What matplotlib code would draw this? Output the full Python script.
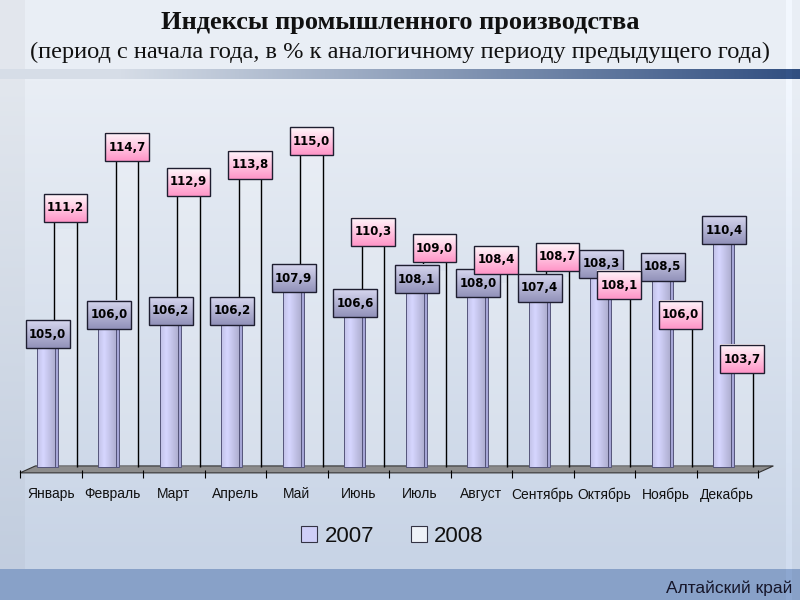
import numpy as np
import matplotlib
matplotlib.use("Agg")
import matplotlib.pyplot as plt
from matplotlib.patches import Rectangle, Polygon
from matplotlib.lines import Line2D

# ── Data ───────────────────────────────────────────────────────
months = ["Январь", "Февраль", "Март", "Апрель", "Май", "Июнь",
          "Июль", "Август", "Сентябрь", "Октябрь", "Ноябрь", "Декабрь"]
y2007 = [105.0, 106.0, 106.2, 106.2, 107.9, 106.6,
         108.1, 108.0, 107.4, 108.3, 108.5, 110.4]
y2008 = [111.2, 114.7, 112.9, 113.8, 115.0, 110.3,
         109.0, 108.4, 108.7, 108.1, 106.0, 103.7]
series_names = ["2007", "2008"]

TITLE = "Индексы промышленного производства"
SUBTITLE = "(период с начала года, в % к аналогичному периоду предыдущего года)"
FOOTER = "Алтайский край"

# label nudges (pixels, up is positive) as placed in the original slide
nudge07 = [0, 0, 0, 0, 0, 0, -5, -7, 0, 7, 0, 0]
nudge08 = [7, 0, 0, 0, 0, 0, 9, 9, 6, -11, 0, 0]

YMIN = 98.67
YMAX = YMIN + 20.25
BASE = 98.8
PX = 390 / (YMAX - YMIN)      # pixels per unit

fig = plt.figure(figsize=(8, 6), dpi=100)

# ── Background ─────────────────────────────────────────────────
H, W = 600, 800
yy = np.arange(H)[:, None]
xx = np.arange(W)[None, :]
top = np.array([233, 238, 245]) / 255
bot = np.array([200, 212, 230]) / 255
t = np.clip((yy - 80) / 480, 0, 1)[..., None]
bg = (1 - t) * top + t * bot
bg = np.broadcast_to(bg, (H, W, 3)).copy()
bg[:, :25] *= 0.97
band = (yy[:, 0] >= 69) & (yy[:, 0] <= 78)
s = np.clip((xx[0] - 120) / 680, 0, 1)[:, None]
c0 = np.array([214, 221, 231]) / 255
c1 = np.array([48, 78, 128]) / 255
bg[band] = (1 - s) * c0 + s * c1
bg[569:] = np.array([136, 161, 200]) / 255
bg[:, 786:792] = np.minimum(bg[:, 786:792] * 1.04, 1)

bgax = fig.add_axes([0, 0, 1, 1], zorder=-10)
bgax.imshow(bg, aspect="auto", interpolation="bilinear")
bgax.axis("off")

fig.text(0.5, 0.963, TITLE, ha="center", va="center", fontsize=19,
         fontweight="bold", family="Liberation Serif", color="#111111")
fig.text(0.5, 0.913, SUBTITLE, ha="center", va="center", fontsize=17.6,
         family="Liberation Serif", color="#111111")
fig.text(0.99, 0.02, FOOTER, ha="right", va="center", fontsize=12.5,
         family="Liberation Sans", color="#16162a")

# ── Chart ──────────────────────────────────────────────────────
ax = fig.add_axes([0.025, 0.2167, 0.9225, 0.65])
ax.patch.set_alpha(0)
for sp in ax.spines.values():
    sp.set_visible(False)

x = np.arange(len(months))
off07, off08 = -0.08, 0.24
w07, w08 = 0.29, 0.36

# 2008 bars (behind, transparent, only side walls drawn)
b08 = ax.bar(x + off08, np.array(y2008) - BASE, bottom=BASE, width=w08,
             facecolor=(1, 1, 1, 0.18), edgecolor="none", zorder=2)
for p, n in zip(b08, nudge08):
    top_v = p.get_y() + p.get_height() + max(n, 0) / PX
    ax.vlines([p.get_x(), p.get_x() + p.get_width()], p.get_y(), top_v,
              color="black", linewidth=1.0, zorder=2.1)

# 2007 bars (front, lavender cylinder)
b07 = ax.bar(x + off07, np.array(y2007) - BASE, bottom=BASE, width=w07,
             color="#c8c8f4", edgecolor="none", zorder=3)
prof = np.linspace(0, 1, 40)
shade = 1 - 0.18 * np.abs(prof - 0.35) / 0.65
lav = np.array([214, 214, 255]) / 255
grad = shade[None, :, None] * lav[None, None, :]
for p, n in zip(b07, nudge07):
    x0, y0, bw = p.get_x(), p.get_y(), p.get_width()
    bh = p.get_height() + max(n, 0) / PX
    ax.imshow(grad, extent=(x0, x0 + bw, y0, y0 + bh), aspect="auto",
              interpolation="bilinear", zorder=3.1)
    ax.add_patch(Rectangle((x0, y0), bw, bh, fill=False, edgecolor="#55557a",
                           linewidth=0.7, zorder=3.3))
    ax.add_patch(Rectangle((x0 + bw, y0), 0.05, bh, facecolor="#a6a6d6",
                           edgecolor="#55557a", linewidth=0.7, zorder=3.2))

# floor
floor = Polygon([(-0.5, YMIN - 0.15), (11.5, YMIN - 0.15),
                 (11.75, BASE + 0.08), (-0.25, BASE + 0.08)],
                closed=True, facecolor="#8c8c8c", edgecolor="#333333",
                linewidth=0.8, zorder=1.5, clip_on=False)
ax.add_patch(floor)

# ── Value labels ───────────────────────────────────────────────
BW, BH = 0.715, 28 / PX


def label_box(cx, v, n, top_c, bot_c, z):
    y0 = v + n / PX
    g = np.linspace(0, 1, 30)[:, None, None]
    arr = (1 - g) * np.array(top_c)[None, None, :] + g * np.array(bot_c)[None, None, :]
    arr = np.repeat(arr, 2, axis=1)
    ax.imshow(arr, extent=(cx - BW / 2, cx + BW / 2, y0, y0 + BH),
              aspect="auto", interpolation="bilinear", zorder=z, clip_on=False)
    ax.add_patch(Rectangle((cx - BW / 2, y0), BW, BH, fill=False,
                           edgecolor="#1e1e30", linewidth=1.0, zorder=z + 0.1,
                           clip_on=False))
    ax.text(cx, y0 + BH / 2, f"{v:.1f}".replace(".", ","), ha="center",
            va="center", fontsize=8.5, fontweight="bold",
            family="DejaVu Sans", color="black", zorder=z + 0.2, clip_on=False)


for xi, v, n in zip(x, y2007, nudge07):
    label_box(xi + off07 + 0.03, v, n, np.array([214, 214, 238]) / 255,
              np.array([146, 146, 186]) / 255, 5)
for xi, v, n in zip(x, y2008, nudge08):
    label_box(xi + off08, v, n, np.array([255, 246, 250]) / 255,
              np.array([255, 150, 200]) / 255, 6)

ax.set_xlim(-0.5, 11.5)
ax.set_ylim(YMIN, YMAX)
ax.set_yticks([])

ax.set_xticks(np.arange(13) - 0.5)
ax.set_xticklabels([])
ax.tick_params(axis="x", which="major", length=6, color="black", width=0.8,
               pad=0)
ax.set_xticks(x, minor=True)
ax.set_xticklabels(months, minor=True, fontsize=10, family="Liberation Sans",
                   color="#111111")
ax.tick_params(axis="x", which="minor", length=0, pad=12.5)

# ── Legend ─────────────────────────────────────────────────────
handles = [
    Line2D([], [], marker="s", linestyle="none", markersize=12,
           markerfacecolor="#cfcff8", markeredgecolor="#333344",
           markeredgewidth=0.8),
    Line2D([], [], marker="s", linestyle="none", markersize=12,
           markerfacecolor="#eef2f8", markeredgecolor="#333344",
           markeredgewidth=0.8),
]
leg = fig.legend(handles, series_names, loc="center", ncol=2,
                 bbox_to_anchor=(0.49, 0.106), frameon=False,
                 prop={"family": "Liberation Sans", "size": 16},
                 handletextpad=0.3, columnspacing=1.6, handlelength=0.8)
for txt in leg.get_texts():
    txt.set_color("#111111")

fig.savefig("out.png", dpi=100)
plt.close(fig)
